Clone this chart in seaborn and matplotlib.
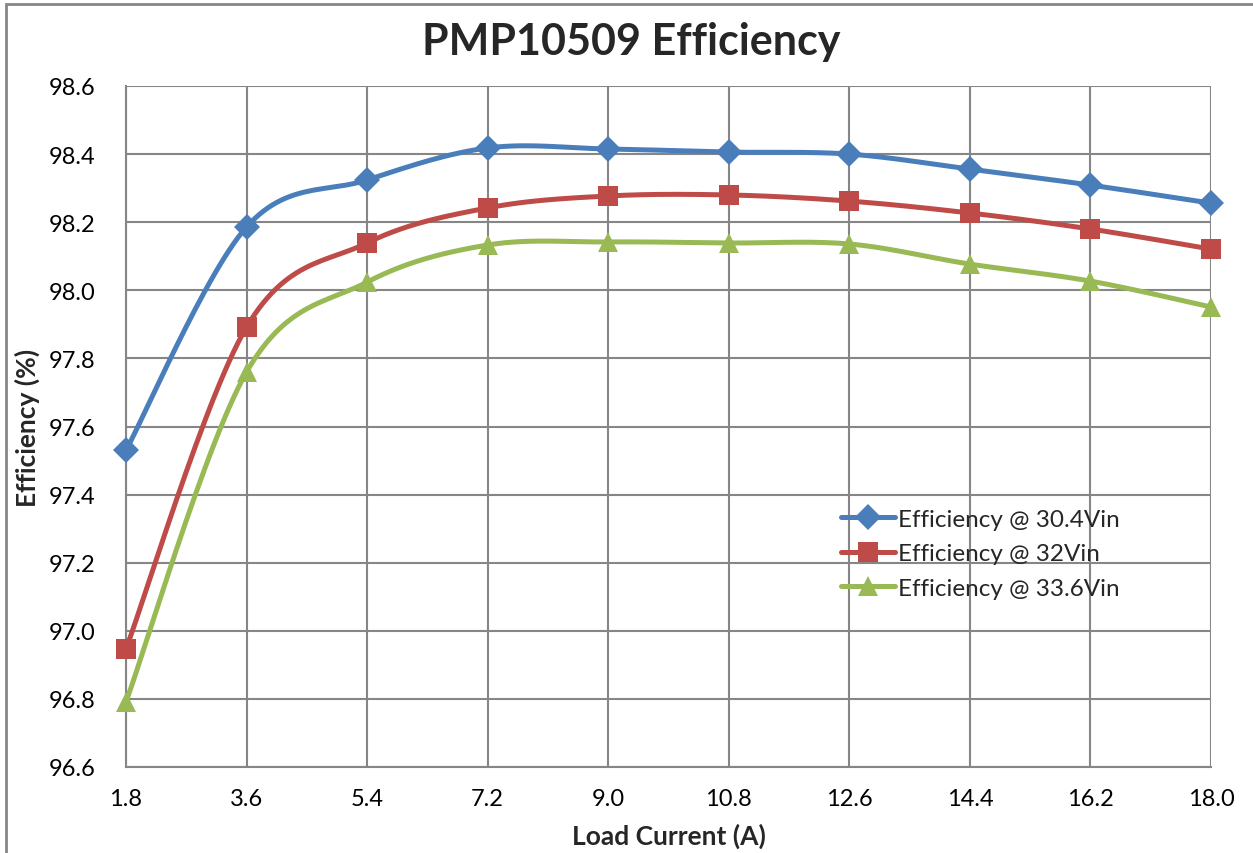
import numpy as np
import pandas as pd
import matplotlib
matplotlib.use("Agg")
import matplotlib.pyplot as plt
from matplotlib.lines import Line2D
from matplotlib.patches import Rectangle
import seaborn as sns

load_current = [1.8, 3.6, 5.4, 7.2, 9.0, 10.8, 12.6, 14.4, 16.2, 18.0]
eff_304 = [97.53, 98.186, 98.324, 98.418, 98.415, 98.406, 98.400, 98.356, 98.309, 98.256]
eff_32 = [96.947, 97.892, 98.139, 98.242, 98.277, 98.280, 98.262, 98.227, 98.180, 98.121]
eff_336 = [96.791, 97.760, 98.024, 98.133, 98.142, 98.139, 98.136, 98.077, 98.027, 97.951]
series_names = ["Efficiency @ 30.4Vin", "Efficiency @ 32Vin", "Efficiency @ 33.6Vin"]
colors = ["#4A7EBB", "#BE4B48", "#98B954"]
markers = ["D", "s", "^"]

sns.set_style("white")
plt.rcParams['font.family'] = ['Lato', 'DejaVu Sans']

XLIM = (1.8, 18.0)
YLIM = (96.6, 98.6)
AX_W, AX_H = 1085.0, 681.0


def excel_smooth(x, y, n=30):
    # bezier smoothing like excel, done in pixel space
    px = (np.asarray(x) - XLIM[0]) / (XLIM[1] - XLIM[0]) * AX_W
    py = (np.asarray(y) - YLIM[0]) / (YLIM[1] - YLIM[0]) * AX_H
    pts = np.column_stack([px, py])
    out = []
    for i in range(len(pts) - 1):
        p0 = pts[max(i - 1, 0)]
        p1 = pts[i]
        p2 = pts[i + 1]
        p3 = pts[min(i + 2, len(pts) - 1)]
        c1 = p1 + (p2 - p0) / 6.0
        c2 = p2 - (p3 - p1) / 6.0
        t = np.linspace(0, 1, n)[:, None]
        seg = ((1 - t) ** 3) * p1 + 3 * ((1 - t) ** 2) * t * c1 + 3 * (1 - t) * t ** 2 * c2 + t ** 3 * p2
        out.append(seg if i == 0 else seg[1:])
    out = np.vstack(out)
    sx = out[:, 0] / AX_W * (XLIM[1] - XLIM[0]) + XLIM[0]
    sy = out[:, 1] / AX_H * (YLIM[1] - YLIM[0]) + YLIM[0]
    return sx, sy


fig = plt.figure(figsize=(12.53, 8.54), dpi=100)
ax = fig.add_axes([126 / 1253, 1 - 768 / 854, 1085 / 1253, 681 / 854])

msizes = {"D": 13, "s": 14, "^": 15}
handles = []
for name, vals, c, m in zip(series_names, [eff_304, eff_32, eff_336], colors, markers):
    sx, sy = excel_smooth(load_current, vals)
    curve = pd.DataFrame({"x": sx, "y": sy})
    sns.lineplot(data=curve, x="x", y="y", sort=False, color=c, linewidth=3.6,
                 ax=ax, legend=False, solid_capstyle="round", zorder=3)
    ms = msizes[m]
    ax.plot(load_current, vals, linestyle="none", marker=m, color=c,
            markersize=ms, markeredgewidth=0, zorder=4, clip_on=False)
    handles.append(Line2D([0], [0], color=c, linewidth=3.6, marker=m,
                          markersize=ms, markeredgewidth=0, solid_capstyle="round"))

ax.set_xlim(*XLIM)
ax.set_ylim(*YLIM)
ax.set_xticks(load_current)
ax.set_xticklabels([f"{v:.1f}" for v in load_current])
yt = np.round(np.arange(96.6, 98.61, 0.2), 1)
ax.set_yticks(yt)
ax.set_yticklabels([f"{v:.1f}" for v in yt])
ax.grid(True, color="#868686", linewidth=1.5)
ax.set_axisbelow(True)
for s in ["top", "right"]:
    ax.spines[s].set_visible(False)
for s in ["left", "bottom"]:
    ax.spines[s].set_color("#868686")
    ax.spines[s].set_linewidth(1.5)
ax.tick_params(axis="x", length=0, labelsize=17, colors="black", pad=15)
ax.tick_params(axis="y", length=0, labelsize=17, colors="black", pad=22)

ax.set_xlabel("Load Current (A)", fontsize=19, fontweight="bold", labelpad=10)
ax.set_ylabel("Efficiency (%)", fontsize=19, fontweight="bold", labelpad=6)
fig.text(631 / 1253, 1 - 42 / 854, "PMP10509 Efficiency", fontsize=31,
         fontweight="bold", ha="center", va="center")

leg = fig.legend(handles, series_names, loc="upper left",
                 bbox_to_anchor=(831 / 1253, 1 - 500 / 854), frameon=False,
                 fontsize=17.5, handlelength=2.25, handletextpad=0.1,
                 labelspacing=0.55, borderaxespad=0)

fig.patches.append(Rectangle((6 / 1253, -0.1), 1.2, 1 - 4.5 / 854 + 0.1,
                             transform=fig.transFigure, fill=False,
                             edgecolor="#868686", linewidth=2))

fig.savefig("out.png", dpi=100)
